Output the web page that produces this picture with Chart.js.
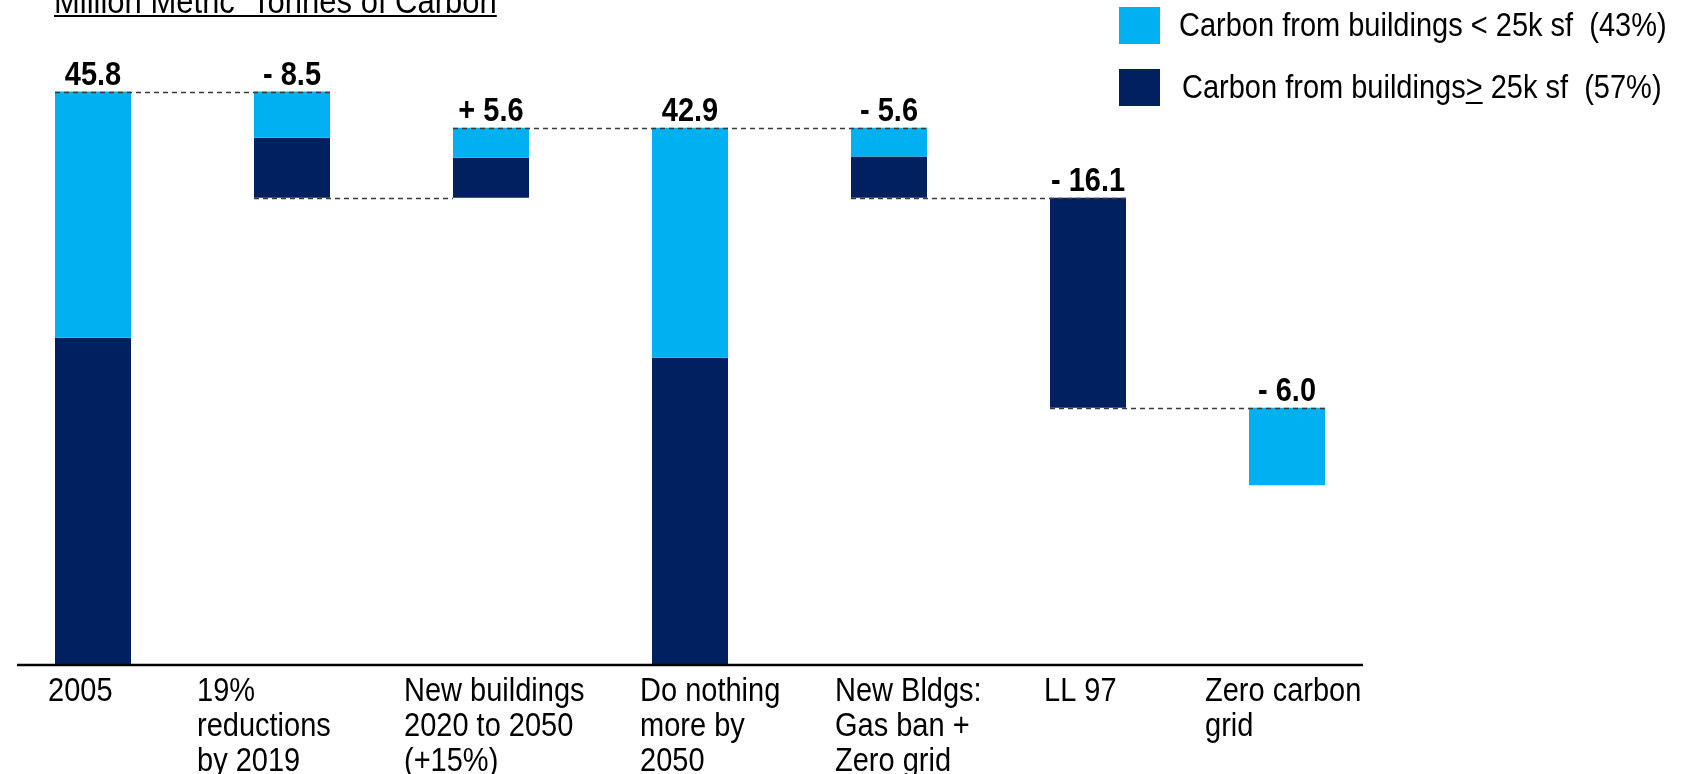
<!DOCTYPE html>
<html>
<head>
<meta charset="utf-8">
<script src="https://cdn.jsdelivr.net/npm/chart.js@4.4.1/dist/chart.umd.min.js"></script>
<style>
  html, body { margin: 0; padding: 0; background: #fff; }
  #wrap { position: relative; width: 1685px; height: 774px; }
</style>
</head>
<body>
<div id="wrap"><canvas id="myChart"></canvas></div>
<script>
// categories (multi-line labels)
var categories = [
  ['2005'],
  ['19%', 'reductions', 'by 2019'],
  ['New buildings', '2020 to 2050', '(+15%)'],
  ['Do nothing', 'more by', '2050'],
  ['New Bldgs:', 'Gas ban +', 'Zero grid'],
  ['LL 97'],
  ['Zero carbon', 'grid']
];
var valueLabels = ['45.8', '- 8.5', '+ 5.6', '42.9', '- 5.6', '- 16.1', '- 6.0'];

// floating segments [from, to], million metric tonnes
var smallBldgs = [[26.1, 45.8], [42.1, 45.8], [40.5, 42.9], [24.5, 42.9], [40.6, 42.9], null, [14.3, 20.5]];
var largeBldgs = [[0, 26.1], [37.3, 42.1], [37.3, 40.5], [0, 24.5], [37.3, 40.6], [20.5, 37.3], null];

// dashed step connectors: level, from bar, to bar
var stepLevels = [45.8, 37.3, 42.9, 37.3, 20.5];
var stepFrom = [0, 1, 2, 4, 5];
var stepTo = [1, 2, 4, 5, 6];

var seriesNames = ['Carbon from buildings < 25k sf  (43%)', 'Carbon from buildings\u2265 25k sf  (57%)'];
var seriesColors = ['#00B0F0', '#002060'];
var title = 'Million Metric  Tonnes of Carbon';

// label shifts (left edge of label relative to bar centre)
var labelShift = [-45, -95, -87, -50, -54, -44, -82];

var FONT = '"Liberation Sans", Arial, sans-serif';
var STRETCH = 1.15;

function drawText(ctx, text, x, y, font, align) {
  ctx.save();
  ctx.font = font;
  ctx.textAlign = align || 'left';
  ctx.textBaseline = 'alphabetic';
  ctx.fillStyle = '#000';
  ctx.translate(x, y);
  ctx.scale(1, STRETCH);
  ctx.fillText(text, 0, 0);
  ctx.restore();
}

var decorPlugin = {
  id: 'decor',
  afterDatasetsDraw: function(chart) {
    var ctx = chart.ctx;
    var xs = chart.scales.x, ys = chart.scales.y;
    var el = chart.getDatasetMeta(1).data[0];
    var bw = el.width;

    // dashed connectors
    ctx.save();
    ctx.strokeStyle = '#3a3a3a';
    ctx.lineWidth = 1.5;
    ctx.setLineDash([5, 4]);
    for (var i = 0; i < stepLevels.length; i++) {
      var y = Math.round(ys.getPixelForValue(stepLevels[i])) + 0.5;
      var x1 = xs.getPixelForValue(stepFrom[i]) - bw / 2;
      var x2 = xs.getPixelForValue(stepTo[i]) + bw / 2;
      if (i == 1) x2 = xs.getPixelForValue(stepTo[i]) - bw / 2;
      ctx.beginPath();
      ctx.moveTo(x1, y);
      ctx.lineTo(x2, y);
      ctx.stroke();
    }
    ctx.restore();

    // axis line
    var y0 = ys.getPixelForValue(0);
    ctx.save();
    ctx.strokeStyle = '#000';
    ctx.lineWidth = 2.5;
    ctx.beginPath();
    ctx.moveTo(xs.getPixelForValue(0) - bw, y0 + 1);
    ctx.lineTo(xs.getPixelForValue(categories.length - 1) + bw, y0 + 1);
    ctx.stroke();
    ctx.restore();

    // value labels above bars
    for (var k = 0; k < valueLabels.length; k++) {
      var top = Math.max(smallBldgs[k] ? smallBldgs[k][1] : 0, largeBldgs[k] ? largeBldgs[k][1] : 0);
      drawText(ctx, valueLabels[k], xs.getPixelForValue(k), ys.getPixelForValue(top) - 7, 'bold 29px ' + FONT, 'center');
    }

    // category labels
    categories.forEach(function(lines, idx) {
      var lx = xs.getPixelForValue(idx) + labelShift[idx];
      lines.forEach(function(t, j) {
        drawText(ctx, t, lx, y0 + 37 + j * 35, '29px ' + FONT, 'left');
      });
    });

    // legend
    var lgX = 1119;
    var rows = [7, 69];
    for (var r = 0; r < 2; r++) {
      ctx.fillStyle = seriesColors[r];
      ctx.fillRect(lgX, rows[r], 41, 37);
      var tx = lgX + 60 + r * 3, ty = rows[r] + 29;
      var name = seriesNames[r];
      if (name.indexOf('\u2265') < 0) {
        drawText(ctx, name, tx, ty, '29px ' + FONT);
      } else {
        var parts = name.split('\u2265');
        ctx.font = '29px ' + FONT;
        var w0 = ctx.measureText(parts[0]).width;
        var wg = ctx.measureText('>').width;
        drawText(ctx, parts[0], tx, ty, '29px ' + FONT);
        drawText(ctx, '>', tx + w0, ty, '29px ' + FONT);
        drawText(ctx, parts[1], tx + w0 + wg, ty, '29px ' + FONT);
        ctx.fillStyle = '#000';
        ctx.fillRect(tx + w0, ty + 4, wg, 2);
      }
    }

    // title (cut by top edge), underlined
    ctx.font = '31px ' + FONT;
    var tw = ctx.measureText(title).width;
    drawText(ctx, title, 54, 13, '31px ' + FONT);
    ctx.fillStyle = '#000';
    ctx.fillRect(54, 15, tw, 2);
  }
};

var ctx = document.getElementById('myChart');
var myChart = new Chart(ctx, {
  type: 'bar',
  data: {
    labels: categories,
    datasets: [{
      label: seriesNames[0],
      data: smallBldgs,
      backgroundColor: seriesColors[0],
      clip: false
    }, {
      label: seriesNames[1],
      data: largeBldgs,
      backgroundColor: seriesColors[1],
      clip: false
    }]
  },
  options: {
    responsive: true,
    maintainAspectRatio: false,
    animation: false,
    barPercentage: 0.382,
    categoryPercentage: 1,
    layout: { padding: { left: 93, right: 398, top: 39, bottom: 110 } },
    plugins: {
      legend: { display: false },
      tooltip: { enabled: false }
    },
    scales: {
      x: { type: 'category', offset: false, stacked: true, display: false },
      y: { stacked: false, min: 0, max: 50, display: false }
    }
  },
  plugins: [decorPlugin]
});
</script>
</body>
</html>
